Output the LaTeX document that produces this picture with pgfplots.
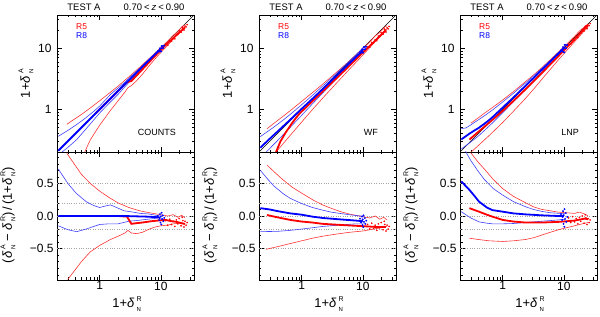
\documentclass[border=0pt]{standalone}
\usepackage{fontspec}
\setmainfont{Liberation Sans}
\usepackage{pgfplots}
\usepackage{pgfplotstable}
\pgfplotsset{compat=1.18}

% ---------------- COUNTS ----------------
\pgfplotstableread{
x r y
0.21 0 0.21
0.3 0 0.3
0.42 0 0.42
0.6 0 0.6
0.85 0 0.85
1.2 0 1.2
2.5 0 2.5
6 -0.01 5.94
9.5 -0.02 9.31
}\cBT
\pgfplotstableread{
x r y
0.86 0 0.86
2.0 0 2.0
2.8 -0.01 2.772
3.3 -0.12 2.904
4 -0.11 3.56
5 -0.1 4.5
7 -0.08 6.44
9 -0.07 8.37
12 -0.06 11.28
15 -0.08 13.8
18 -0.09 16.38
22 -0.11 19.58
25 -0.12 22
}\cRT
\pgfplotstableread{
x r y
0.29 0.96 0.568
0.35 0.85 0.6475
0.5 0.64 0.82
0.7 0.5 1.05
1 0.38 1.38
1.5 0.27 1.905
2 0.2 2.4
3 0.13 3.39
4.5 0.08 4.86
6.5 0.05 6.825
10 0.02 10.2
13 0.0 13
16 0.02 16.32
19 -0.02 18.62
22 0.01 22.22
25 -0.03 24.25
}\cRU
\pgfplotstableread{
x r y
0.3 -0.97 0.009
0.4 -0.82 0.072
0.5 -0.7 0.15
0.7 -0.55 0.315
1 -0.45 0.55
1.5 -0.36 0.96
2 -0.31 1.38
2.6 -0.26 1.924
2.9 -0.22 2.262
3.3 -0.26 2.442
4 -0.27 2.92
5 -0.25 3.75
6.5 -0.2 5.2
8 -0.17 6.64
10 -0.15 8.5
13 -0.14 11.18
16 -0.12 14.08
20 -0.11 17.8
25 -0.13 21.75
}\cRL
\pgfplotstableread{
x r y
0.21 0.72 0.3612
0.3 0.5 0.45
0.41 0.35 0.5535
0.6 0.22 0.732
0.8 0.16 0.928
1 0.13 1.13
1.2 0.15 1.38
1.5 0.17 1.755
2 0.12 2.24
2.5 0.08 2.7
3.5 0.06 3.71
4.6 0.04 4.784
6.5 0.03 6.695
9.6 0.0 9.6
11 0.01 11.11
}\cBU
\pgfplotstableread{
x r y
0.21 -0.15 0.1785
0.3 -0.21 0.237
0.42 -0.24 0.3192
0.6 -0.2 0.48
0.8 -0.16 0.672
1 -0.13 0.87
1.4 -0.12 1.232
2 -0.12 1.76
3 -0.08 2.76
4 -0.07 3.72
6 -0.05 5.7
9.6 -0.03 9.312
11 -0.04 10.56
}\cBL
\pgfplotstableread{
x r y
9.0 0.0 9.00
9.4 -0.06 8.836
9.7 0.03 9.991
9.9 -0.10 8.91
10.0 -0.01 9.90
10.2 -0.13 8.874
10.3 0.05 10.815
10.5 -0.05 9.975
10.8 0.01 10.908
11.0 -0.08 10.12
11.4 -0.03 11.058
9.6 -0.03 9.312
}\cBS
\pgfplotstableread{
x r y
12 -0.07 11.16
13 -0.14 11.18
14 -0.05 13.3
15 -0.13 13.05
16 -0.08 14.72
17 -0.16 14.28
18 -0.06 16.92
19 -0.12 16.72
20 -0.04 19.2
21.5 -0.15 18.275
23 -0.07 21.39
24 -0.17 19.92
25 -0.08 23.0
26 -0.14 22.36
27 -0.10 24.3
22.5 -0.02 22.05
}\cRS

% ---------------- WF ----------------
\pgfplotstableread{
x r y
0.21 0.12 0.2352
0.3 0.1 0.33
0.4 0.075 0.43
0.65 0.04 0.676
1 0.02 1.02
1.5 -0.01 1.485
2.2 -0.03 2.134
4 -0.05 3.8
7.7 -0.07 7.161
10 -0.08 9.2
}\wBT
\pgfplotstableread{
x r
0.27 0.015
0.4 -0.02
0.65 -0.06
1 -0.085
1.5 -0.1
2.2 -0.12
4 -0.135
7.7 -0.15
12 -0.16
18 -0.17
24 -0.17
}\wRT
\pgfplotstableread{
x y
0.38 0.2
0.45 0.3
0.55 0.42
0.7 0.6
0.9 0.83
1.2 1.1
2 1.78
4 3.46
7.7 6.55
12 10.1
18 14.9
24 19.9
}\wRTtop
\pgfplotstableread{
x r y
0.27 0.78 0.4806
0.35 0.68 0.588
0.5 0.55 0.775
0.7 0.44 1.008
1 0.35 1.35
1.5 0.25 1.875
2.2 0.17 2.574
3 0.12 3.36
4.2 0.07 4.494
6 0.03 6.18
7.7 0.01 7.777
10 -0.01 9.9
13 -0.03 12.61
16 0.0 16
19 -0.05 18.05
22 -0.02 21.56
25 -0.06 23.5
}\wRU
\pgfplotstableread{
x r y
0.26 -0.51 0.1274
0.4 -0.47 0.212
0.6 -0.43 0.342
1 -0.38 0.62
1.5 -0.34 0.99
2.2 -0.31 1.518
3.5 -0.28 2.52
6 -0.25 4.5
10 -0.23 7.7
15 -0.2 12
20 -0.18 16.4
25 -0.16 21
}\wRL
\pgfplotstableread{
x r y
0.21 0.7 0.357
0.28 0.56 0.4368
0.35 0.46 0.511
0.5 0.34 0.67
0.65 0.27 0.8255
1 0.19 1.19
1.5 0.13 1.695
2.2 0.09 2.398
3 0.06 3.18
4.2 0.04 4.368
6 0.02 6.12
9 0.0 9
10.5 0.0 10.5
}\wBU
\pgfplotstableread{
x r y
0.21 -0.24 0.1596
0.4 -0.235 0.306
0.65 -0.22 0.507
1 -0.2 0.8
1.5 -0.18 1.23
2.2 -0.16 1.848
4 -0.14 3.44
7.7 -0.12 6.776
10.5 -0.12 9.24
}\wBL
\pgfplotstableread{
x r y
9.0 -0.04 8.64
9.4 -0.10 8.46
9.7 -0.01 9.603
9.9 -0.14 8.514
10.0 -0.05 9.5
10.2 -0.17 8.466
10.3 0.01 10.403
10.5 -0.09 9.555
10.8 -0.03 10.476
11.0 -0.12 9.68
11.4 -0.07 10.602
9.6 -0.07 8.928
}\wBS
\pgfplotstableread{
x r y
12 -0.13 10.44
13 -0.20 10.4
14 -0.11 12.46
15 -0.19 12.15
16 -0.14 13.76
17 -0.22 13.26
18 -0.12 15.84
19 -0.18 15.58
20 -0.10 18.0
21.5 -0.21 16.985
23 -0.13 20.01
24 -0.23 18.48
25 -0.14 21.5
26 -0.20 20.8
27 -0.16 22.68
22.5 -0.08 20.7
}\wRS

% ---------------- LNP ----------------
\pgfplotstableread{
x r y
0.21 0.53 0.3213
0.285 0.4 0.399
0.35 0.3 0.455
0.41 0.22 0.5002
0.55 0.13 0.6215
0.68 0.09 0.7412
1 0.066 1.066
1.5 0.04 1.56
2.36 0.025 2.419
4.4 0.01 4.444
8.2 0.0 8.2
10 0.0 10
}\lBT
\pgfplotstableread{
x r y
0.285 0.12 0.3192
0.41 0.066 0.437
0.55 0.02 0.561
0.68 -0.01 0.6732
1 -0.06 0.94
1.5 -0.085 1.3725
2.36 -0.1 2.124
4.4 -0.1 3.96
8.2 -0.09 7.462
15 -0.07 13.95
22 -0.04 21.12
25 -0.05 23.75
}\lRT
\pgfplotstableread{
x r y
0.3 0.97 0.591
0.4 0.82 0.728
0.5 0.72 0.86
0.7 0.56 1.092
1 0.42 1.42
1.5 0.3 1.95
2.4 0.2 2.88
3.2 0.14 3.648
4.4 0.1 4.84
6 0.08 6.48
8 0.06 8.48
11 0.05 11.55
15 0.04 15.6
18 0.06 19.08
22 0.03 22.66
25 0.0 25
}\lRU
\pgfplotstableread{
x r y
0.285 -0.34 0.1881
0.4 -0.36 0.256
0.6 -0.38 0.372
1 -0.39 0.61
1.5 -0.38 0.93
2.36 -0.36 1.5104
3.3 -0.33 2.211
4.4 -0.29 3.124
6 -0.25 4.5
8.2 -0.21 6.478
11 -0.18 9.02
15 -0.15 12.75
20 -0.12 17.6
25 -0.1 22.5
}\lRL
\pgfplotstableread{
x r y
0.21 1.3 0.483
0.25 0.98 0.495
0.3 0.85 0.555
0.4 0.68 0.672
0.5 0.56 0.78
0.7 0.42 0.994
1 0.32 1.32
1.5 0.22 1.83
2.4 0.14 2.736
3.2 0.1 3.52
4.4 0.07 4.708
6 0.05 6.3
8.5 0.04 8.84
10.5 0.04 10.92
}\lBU
\pgfplotstableread{
x r y
0.21 0.066 0.2239
0.3 -0.03 0.291
0.41 -0.09 0.3731
0.55 -0.11 0.4895
0.68 -0.12 0.5984
1 -0.12 0.88
1.5 -0.115 1.3275
2.36 -0.1 2.124
4.4 -0.08 4.048
8.2 -0.06 7.708
10.5 -0.05 9.975
}\lBL
\pgfplotstableread{
x r y
9.0 0.03 9.27
9.4 -0.06 8.836
9.7 0.075 10.4275
9.9 -0.12 8.712
10.0 0.015 10.15
10.2 -0.165 8.517
10.3 0.105 11.3815
10.5 -0.045 10.0275
10.8 0.045 11.286
11.0 -0.09 10.01
11.4 -0.015 11.229
9.6 -0.015 9.456
}\lBS
\pgfplotstableread{
x r y
12 -0.03 11.64
13 -0.10 11.7
14 -0.01 13.86
15 -0.09 13.65
16 -0.04 15.36
17 -0.12 14.96
18 -0.02 17.64
19 -0.08 17.48
20 0.0 20
21.5 -0.11 19.135
23 -0.03 22.31
24 -0.13 20.88
25 -0.04 24.0
26 -0.10 23.4
27 -0.06 25.38
22.5 0.02 22.95
}\lRS

\pgfplotsset{
  myaxisbase/.style={scale only axis, width=137bp, xmin=0.2, xmax=35,
    axis line style={line width=0.6bp},
    tick style={black, line width=0.5bp},
    major tick length=5bp, minor tick length=2.5bp,
    xtick={1,10},
    minor xtick={0.2,0.3,0.4,0.5,0.6,0.7,0.8,0.9,2,3,4,5,6,7,8,9,20,30},
    tick label style={font=\fontsize{12}{12}\selectfont},
    clip=true},
  mytoppanel/.style={myaxisbase, ymin=0.2, ymax=35, height=137bp,
    ytick={1,10}, yticklabels={1,10},
    minor ytick={0.2,0.3,0.4,0.5,0.6,0.7,0.8,0.9,2,3,4,5,6,7,8,9,20,30},
    xticklabels={},
    yticklabel style={xshift=-2bp}},
  mybotpanel/.style={myaxisbase, ymin=-0.98, ymax=0.98, height=128bp,
    ytick={-0.5,0,0.5}, yticklabels={−0.5,0.0,0.5},
    minor ytick={-0.9,-0.8,-0.7,-0.6,-0.4,-0.3,-0.2,-0.1,0.1,0.2,0.3,0.4,0.6,0.7,0.8,0.9},
    xticklabels={1,10},
    xticklabel style={inner sep=1.5bp},
    extra y ticks={-0.5,-0.2,0,0.2,0.5},
    extra y tick labels={},
    extra y tick style={grid=major, major grid style={gray!70, dotted, line width=0.5bp}, major tick length=0pt}},
  pdiag/.style={black, line width=0.6bp, mark=none},
  pthinr/.style={red!80, line width=0.6bp, mark=none},
  pthinb/.style={blue!75, line width=0.6bp, mark=none},
  pthickr/.style={red, line width=1.8bp, mark=none},
  pthickb/.style={blue, line width=1.8bp, mark=none},
  pscatr/.style={red, only marks, mark=*, mark size=0.6bp, mark options={draw=none, fill=red}},
  pscatb/.style={blue, only marks, mark=*, mark size=0.7bp, mark options={draw=none, fill=blue}},
}
\tikzset{
  ttlnode/.style={font=\fontsize{9.5}{11}\selectfont},
  labnode/.style={font=\fontsize{13}{15}\selectfont, rotate=90},
}

% delta with stacked super- and subscript
\newcommand{\dlt}[2]{\textit{δ}\hspace{2bp}\makebox[5bp][l]{\rlap{\raisebox{6.5bp}{\fontsize{7}{7}\selectfont #1}}\raisebox{-3.5bp}{\fontsize{6}{6}\selectfont #2}}}

\begin{document}
\begin{tikzpicture}
\path[use as bounding box] (0,0) rectangle (600bp,317bp);

% ===== column 1: COUNTS =====
\begin{loglogaxis}[mytoppanel, at={(57bp,165bp)}, anchor=south west]
\addplot[pdiag] coordinates {(0.2,0.2) (35,35)};
\addplot[pthinr] table[x=x,y=y]{\cRU};
\addplot[pthinr] table[x=x,y=y]{\cRL};
\addplot[pthinb] table[x=x,y=y]{\cBU};
\addplot[pthinb] table[x=x,y=y]{\cBL};
\addplot[pthickr] table[x=x,y=y]{\cRT};
\addplot[pthickb] table[x=x,y=y]{\cBT};
\addplot[pscatr] table[x=x,y=y]{\cRS};
\addplot[pscatb] table[x=x,y=y]{\cBS};
\end{loglogaxis}
\begin{semilogxaxis}[mybotpanel, at={(57bp,37bp)}, anchor=south west]
\addplot[pthinr] table[x=x,y=r]{\cRU};
\addplot[pthinr] table[x=x,y=r]{\cRL};
\addplot[pthinb] table[x=x,y=r]{\cBU};
\addplot[pthinb] table[x=x,y=r]{\cBL};
\addplot[pthickr] table[x=x,y=r]{\cRT};
\addplot[pthickb] table[x=x,y=r]{\cBT};
\addplot[pscatr] table[x=x,y=r]{\cRS};
\addplot[pscatb] table[x=x,y=r]{\cBS};
\end{semilogxaxis}

% ===== column 2: WF =====
\begin{loglogaxis}[mytoppanel, at={(259bp,165bp)}, anchor=south west]
\addplot[pdiag] coordinates {(0.2,0.2) (35,35)};
\addplot[pthinr] table[x=x,y=y]{\wRU};
\addplot[pthinr] table[x=x,y=y]{\wRL};
\addplot[pthinb] table[x=x,y=y]{\wBU};
\addplot[pthinb] table[x=x,y=y]{\wBL};
\addplot[pthickr] table[x=x,y=y]{\wRTtop};
\addplot[pthickb] table[x=x,y=y]{\wBT};
\addplot[pscatr] table[x=x,y=y]{\wRS};
\addplot[pscatb] table[x=x,y=y]{\wBS};
\end{loglogaxis}
\begin{semilogxaxis}[mybotpanel, at={(259bp,37bp)}, anchor=south west]
\addplot[pthinr] table[x=x,y=r]{\wRU};
\addplot[pthinr] table[x=x,y=r]{\wRL};
\addplot[pthinb] table[x=x,y=r]{\wBU};
\addplot[pthinb] table[x=x,y=r]{\wBL};
\addplot[pthickr] table[x=x,y=r]{\wRT};
\addplot[pthickb] table[x=x,y=r]{\wBT};
\addplot[pscatr] table[x=x,y=r]{\wRS};
\addplot[pscatb] table[x=x,y=r]{\wBS};
\end{semilogxaxis}

% ===== column 3: LNP =====
\begin{loglogaxis}[mytoppanel, at={(460bp,165bp)}, anchor=south west]
\addplot[pdiag] coordinates {(0.2,0.2) (35,35)};
\addplot[pthinr] table[x=x,y=y]{\lRU};
\addplot[pthinr] table[x=x,y=y]{\lRL};
\addplot[pthinb] table[x=x,y=y]{\lBU};
\addplot[pthinb] table[x=x,y=y]{\lBL};
\addplot[pthickr] table[x=x,y=y]{\lRT};
\addplot[pthickb] table[x=x,y=y]{\lBT};
\addplot[pscatr] table[x=x,y=y]{\lRS};
\addplot[pscatb] table[x=x,y=y]{\lBS};
\end{loglogaxis}
\begin{semilogxaxis}[mybotpanel, at={(460bp,37bp)}, anchor=south west]
\addplot[pthinr] table[x=x,y=r]{\lRU};
\addplot[pthinr] table[x=x,y=r]{\lRL};
\addplot[pthinb] table[x=x,y=r]{\lBU};
\addplot[pthinb] table[x=x,y=r]{\lBL};
\addplot[pthickr] table[x=x,y=r]{\lRT};
\addplot[pthickb] table[x=x,y=r]{\lBT};
\addplot[pscatr] table[x=x,y=r]{\lRS};
\addplot[pscatb] table[x=x,y=r]{\lBS};
\end{semilogxaxis}

% ===== texts =====
\foreach \L/\name in {57/COUNTS, 259/WF, 460/LNP}{
  \node[ttlnode] at (\L bp+27bp, 310bp) {TEST A};
  \node[ttlnode] at (\L bp+97bp, 310bp) {0.70\hspace{2bp}<\hspace{2bp}\textit{z}\hspace{2bp}<\hspace{2bp}0.90};
  \node[font=\fontsize{8.5}{9}\selectfont, text=red, anchor=west, inner sep=0pt] at (\L bp+19bp, 290bp) {R5};
  \node[font=\fontsize{8.5}{9}\selectfont, text=blue, anchor=west, inner sep=0pt] at (\L bp+19bp, 281bp) {R8};
  \node[font=\fontsize{9}{10}\selectfont, anchor=east, inner sep=0pt] at (\L bp+119bp, 185bp) {\name};
  \node[labnode] at (\L bp-31bp, 233.5bp) {1+\dlt{A}{N}};
  \node[labnode] at (\L bp-49bp, 102bp) {(\dlt{A}{N}\hspace{3bp}−\hspace{3bp}\dlt{R}{N})\hspace{2bp}/\hspace{2bp}(1+\dlt{R}{N})};
  \node[font=\fontsize{13}{15}\selectfont] at (\L bp+70bp, 13bp) {1+\dlt{R}{N}};
}
\end{tikzpicture}
\end{document}
